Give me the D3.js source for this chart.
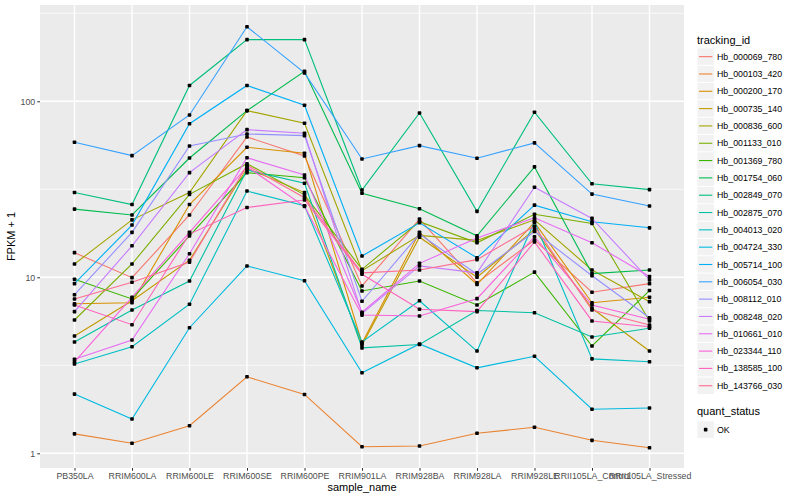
<!DOCTYPE html>
<html>
<head>
<meta charset="utf-8">
<script src="https://d3js.org/d3.v7.min.js"></script>
<style>
  body { margin: 0; background: #fff; }
  text { font-family: "Liberation Sans", Arial, sans-serif; }
</style>
</head>
<body>
<div id="chart"></div>
<script>
// sample names on the x axis
const samples = ["PB350LA", "RRIM600LA", "RRIM600LE", "RRIM600SE", "RRIM600PE",
  "RRIM901LA", "RRIM928BA", "RRIM928LA", "RRIM928LE", "RRII105LA_Control", "RRII105LA_Stressed"];

const trackingIds = ["Hb_000069_780", "Hb_000103_420", "Hb_000200_170", "Hb_000735_140",
  "Hb_000836_600", "Hb_001133_010", "Hb_001369_780", "Hb_001754_060", "Hb_002849_070",
  "Hb_002875_070", "Hb_004013_020", "Hb_004724_330", "Hb_005714_100", "Hb_006054_030",
  "Hb_008112_010", "Hb_008248_020", "Hb_010661_010", "Hb_023344_110", "Hb_138585_100",
  "Hb_143766_030"];

// FPKM + 1 per gene, one value per sample
const hb_000069_780 = [13.8, 9.95, 22.6, 62.7, 48.9, 8.93, 21.4, 9.3, 16.3, 8.22, 9.2];
const hb_000103_420 = [1.29, 1.14, 1.435, 2.72, 2.16, 1.09, 1.10, 1.30, 1.405, 1.185, 1.076];
const hb_000200_170 = [7.08, 7.17, 25.9, 54.8, 50.7, 4.22, 18.0, 9.1, 20.5, 7.17, 7.70];
const hb_000735_140 = [4.64, 7.36, 12.5, 41.6, 30.3, 4.12, 16.9, 10.0, 18.7, 6.67, 3.81];
const hb_000836_600 = [11.9, 21.2, 30.3, 88.5, 75, 10.9, 17.3, 16.2, 21.2, 11.0, 7.27];
const hb_001133_010 = [5.72, 11.9, 29.6, 44.2, 29.4, 11.1, 20.7, 15.7, 22.8, 20.2, 5.65];
const hb_001369_780 = [9.74, 7.53, 17.2, 39.3, 36.8, 8.36, 9.53, 6.96, 10.7, 4.07, 8.41];
const hb_001754_060 = [24.4, 22.6, 47.6, 88.5, 148, 30.0, 24.5, 17.2, 42.4, 10.5, 11.0];
const hb_002849_070 = [30.3, 25.9, 123, 224, 224, 31.3, 85.8, 23.7, 86.6, 34.0, 31.5];
const hb_002875_070 = [4.29, 6.52, 9.53, 40.7, 34.2, 3.97, 4.15, 6.47, 6.29, 4.58, 5.13];
const hb_004013_020 = [3.22, 4.03, 7.03, 30.9, 25.5, 4.29, 7.36, 3.81, 20.7, 3.44, 3.31];
const hb_004724_330 = [2.17, 1.566, 5.17, 11.6, 9.56, 2.87, 4.18, 3.06, 3.56, 1.78, 1.81];
const hb_005714_100 = [9.2, 19.8, 74.6, 123, 94.9, 13.2, 20.4, 12.9, 25.7, 20.7, 19.1];
const hb_006054_030 = [58.5, 49.1, 83.6, 265, 145, 47.0, 56.0, 47.5, 58.0, 29.7, 25.4];
const hb_008112_010 = [7.96, 18.0, 55.7, 65.2, 63.8, 7.31, 17.6, 10.4, 18.2, 10.2, 5.89];
const hb_008248_020 = [6.38, 15.1, 39.3, 69.0, 65.8, 6.22, 11.6, 10.6, 32.5, 21.6, 9.67];
const hb_010661_010 = [3.42, 4.40, 13.6, 47.8, 38.1, 6.33, 12.0, 16.7, 21.8, 15.7, 10.1];
const hb_023344_110 = [3.31, 7.70, 18.0, 42.5, 25.3, 6.1, 6.03, 7.56, 17.0, 6.96, 5.78];
const hb_138585_100 = [6.96, 5.38, 17.6, 24.9, 27.5, 10.4, 6.58, 6.38, 15.9, 5.65, 5.24];
const hb_143766_030 = [7.53, 9.38, 12.2, 43.3, 28.3, 10.6, 11.0, 12.6, 19.5, 6.52, 5.36];

const yTicks = [1, 10, 100];
const yMinor = [Math.sqrt(10), Math.sqrt(1000), Math.sqrt(100000)];
const quantStatus = ["OK"];

const allValues = [hb_000069_780, hb_000103_420, hb_000200_170, hb_000735_140, hb_000836_600,
  hb_001133_010, hb_001369_780, hb_001754_060, hb_002849_070, hb_002875_070, hb_004013_020,
  hb_004724_330, hb_005714_100, hb_006054_030, hb_008112_010, hb_008248_020, hb_010661_010,
  hb_023344_110, hb_138585_100, hb_143766_030];

const series = trackingIds.map((id, i) => ({
  id: id,
  values: allValues[i].map((v, j) => ({ sample: samples[j], value: v }))
}));

// ggplot default hue palette for 20 levels
const palette = ["#F8766D", "#EA8331", "#D89000", "#C09B00", "#A3A500", "#7CAE00", "#39B600",
  "#00BB4E", "#00BF7D", "#00C1A3", "#00BFC4", "#00BAE0", "#00B0F6", "#35A2FF", "#9590FF",
  "#C77CFF", "#E76BF3", "#FA62DB", "#FF62BC", "#FF6C91"];
const color = d3.scaleOrdinal().domain(trackingIds).range(palette);

const width = 800, height = 500;
const panel = { left: 40, right: 684, top: 5, bottom: 468 };

const svg = d3.select("#chart").append("svg")
  .attr("width", width).attr("height", height);

const x = d3.scalePoint().domain(samples)
  .range([panel.left, panel.right]).padding(0.6);

const y = d3.scaleLog()
  .domain([Math.pow(10, -0.0835), Math.pow(10, 2.547)])
  .range([panel.bottom, panel.top]);

// panel background
svg.append("rect")
  .attr("x", panel.left).attr("y", panel.top)
  .attr("width", panel.right - panel.left).attr("height", panel.bottom - panel.top)
  .attr("fill", "#EBEBEB");

// grid
svg.append("g").selectAll("line").data(yMinor).join("line")
  .attr("x1", panel.left).attr("x2", panel.right)
  .attr("y1", d => y(d)).attr("y2", d => y(d))
  .attr("stroke", "#fff").attr("stroke-width", 0.7);
svg.append("g").selectAll("line").data(yTicks).join("line")
  .attr("x1", panel.left).attr("x2", panel.right)
  .attr("y1", d => y(d)).attr("y2", d => y(d))
  .attr("stroke", "#fff").attr("stroke-width", 1.4);
svg.append("g").selectAll("line").data(samples).join("line")
  .attr("x1", d => x(d)).attr("x2", d => x(d))
  .attr("y1", panel.top).attr("y2", panel.bottom)
  .attr("stroke", "#fff").attr("stroke-width", 1.4);

// lines
const line = d3.line().x(d => x(d.sample)).y(d => y(d.value));
svg.append("g").selectAll("path").data(series).join("path")
  .attr("d", d => line(d.values))
  .attr("fill", "none")
  .attr("stroke", d => color(d.id))
  .attr("stroke-width", 1.1);

// points
svg.append("g").selectAll("g").data(series).join("g")
  .selectAll("rect").data(d => d.values).join("rect")
  .attr("x", d => x(d.sample) - 1.8).attr("y", d => y(d.value) - 1.8)
  .attr("width", 3.6).attr("height", 3.6).attr("rx", 0.8)
  .attr("fill", "#000");

// axes
const xAxis = svg.append("g")
  .attr("transform", `translate(0,${panel.bottom})`)
  .call(d3.axisBottom(x).tickSize(2.75).tickPadding(2));
const yAxis = svg.append("g")
  .attr("transform", `translate(${panel.left},0)`)
  .call(d3.axisLeft(y).tickValues(yTicks).tickFormat(d3.format("d")).tickSize(2.75).tickPadding(2));
[xAxis, yAxis].forEach(a => {
  a.select(".domain").remove();
  a.selectAll(".tick line").attr("stroke", "#333333").attr("stroke-width", 1);
  a.selectAll(".tick text").attr("fill", "#4D4D4D")
    .style("font-size", "8.8px").style("font-family", "'Liberation Sans', Arial, sans-serif");
});

// axis titles
svg.append("text")
  .attr("x", (panel.left + panel.right) / 2).attr("y", 491)
  .attr("text-anchor", "middle").style("font-size", "11px")
  .text("sample_name");
svg.append("text")
  .attr("transform", `translate(15,${(panel.top + panel.bottom) / 2}) rotate(-90)`)
  .attr("text-anchor", "middle").style("font-size", "11px")
  .text("FPKM + 1");

// legend: tracking_id
const legend = svg.append("g").attr("transform", "translate(697,0)");
legend.append("text").attr("x", 0).attr("y", 44)
  .style("font-size", "11px").text("tracking_id");
const step = 17.32;
const rows = legend.selectAll("g.row").data(trackingIds).join("g")
  .attr("class", "row")
  .attr("transform", (d, i) => `translate(0,${48 + i * step})`);
rows.append("rect").attr("width", 17.3).attr("height", 17.3)
  .attr("fill", "#F2F2F2").attr("stroke", "#fff").attr("stroke-width", 0.8);
rows.append("line").attr("x1", 2).attr("x2", 15.3)
  .attr("y1", 8.65).attr("y2", 8.65)
  .attr("stroke", d => color(d)).attr("stroke-width", 1.1);
rows.append("text").attr("x", 20).attr("y", 8.65).attr("dy", "0.35em")
  .style("font-size", "8.8px").text(d => d);

// legend: quant_status
const legend2 = svg.append("g").attr("transform", "translate(697,0)");
legend2.append("text").attr("x", 0).attr("y", 415)
  .style("font-size", "11px").text("quant_status");
const rows2 = legend2.selectAll("g.row").data(quantStatus).join("g")
  .attr("class", "row")
  .attr("transform", (d, i) => `translate(0,${421 + i * step})`);
rows2.append("rect").attr("width", 17.3).attr("height", 17.3)
  .attr("fill", "#F2F2F2").attr("stroke", "#fff").attr("stroke-width", 0.8);
rows2.append("rect").attr("x", 6.85).attr("y", 6.85).attr("width", 3.6).attr("height", 3.6)
  .attr("rx", 0.8).attr("fill", "#000");
rows2.append("text").attr("x", 20).attr("y", 8.65).attr("dy", "0.35em")
  .style("font-size", "8.8px").text(d => d);
</script>
</body>
</html>
